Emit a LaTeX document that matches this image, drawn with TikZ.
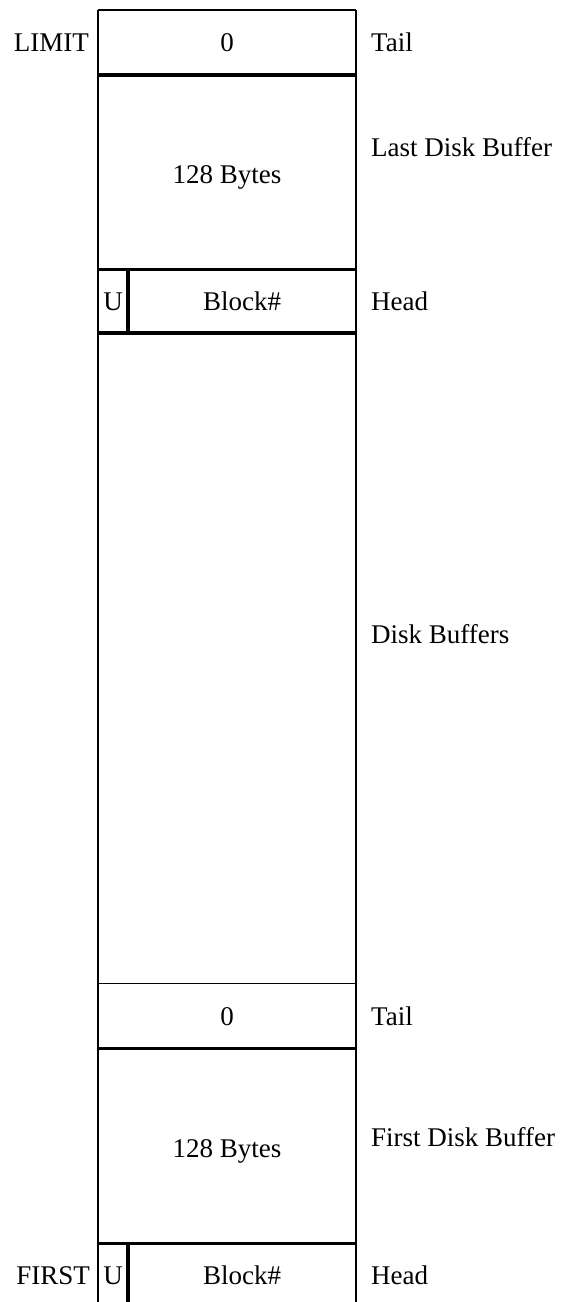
\documentclass[tikz,border=0pt]{standalone}
\usepackage{fontspec}
\setmainfont{Liberation Serif}
\begin{document}
\begin{tikzpicture}[x=1pt,y=-1pt,
  lbl/.style={inner sep=0pt,text height=18pt,text depth=0pt,font=\fontsize{27}{32}\selectfont},
  thinline/.style={line width=1.8pt,black},
  thickline/.style={line width=3.2pt,black}]
\useasboundingbox (0,0) rectangle (563,1302);
% outer verticals
\draw[thinline] (98,10) -- (98,1302);
\draw[thinline] (356,10) -- (356,1302);
% horizontal separators
\draw[thinline] (98,10) -- (356,10);
\draw[thickline] (98,75) -- (356,75);
\draw[thickline] (98,269.5) -- (356,269.5);
\draw[thickline] (98,333) -- (356,333);
\draw[thinline] (98,983.5) -- (356,983.5);
\draw[thickline] (98,1048.5) -- (356,1048.5);
\draw[thickline] (98,1243.5) -- (356,1243.5);
% U dividers
\draw[thickline] (128,269.5) -- (128,333);
\draw[thickline] (128,1243.5) -- (128,1302);
% cell texts
\node[lbl] (z1) at (227,42) {0};
\node[lbl] (b1) at (227,174) {128 Bytes};
\node[lbl] (u1) at (113,301) {U};
\node[lbl] (k1) at (242,301) {Block\#};
\node[lbl] (z2) at (227,1016) {0};
\node[lbl] (b2) at (227,1148) {128 Bytes};
\node[lbl] (u2) at (113,1275) {U};
\node[lbl] (k2) at (242,1275) {Block\#};
% left labels
\node[lbl,anchor=east] (limit) at (89,42) {LIMIT};
\node[lbl,anchor=east] (first) at (90,1275) {FIRST};
% right labels
\node[lbl,anchor=west] (tail1) at (371,42) {Tail};
\node[lbl,anchor=west] (ldb) at (371,147) {Last Disk Buffer};
\node[lbl,anchor=west] (head1) at (371,301) {Head};
\node[lbl,anchor=west] (db) at (371,634) {Disk Buffers};
\node[lbl,anchor=west] (tail2) at (371,1016) {Tail};
\node[lbl,anchor=west] (fdb) at (371,1137) {First Disk Buffer};
\node[lbl,anchor=west] (head2) at (371,1275) {Head};
\end{tikzpicture}
\end{document}
